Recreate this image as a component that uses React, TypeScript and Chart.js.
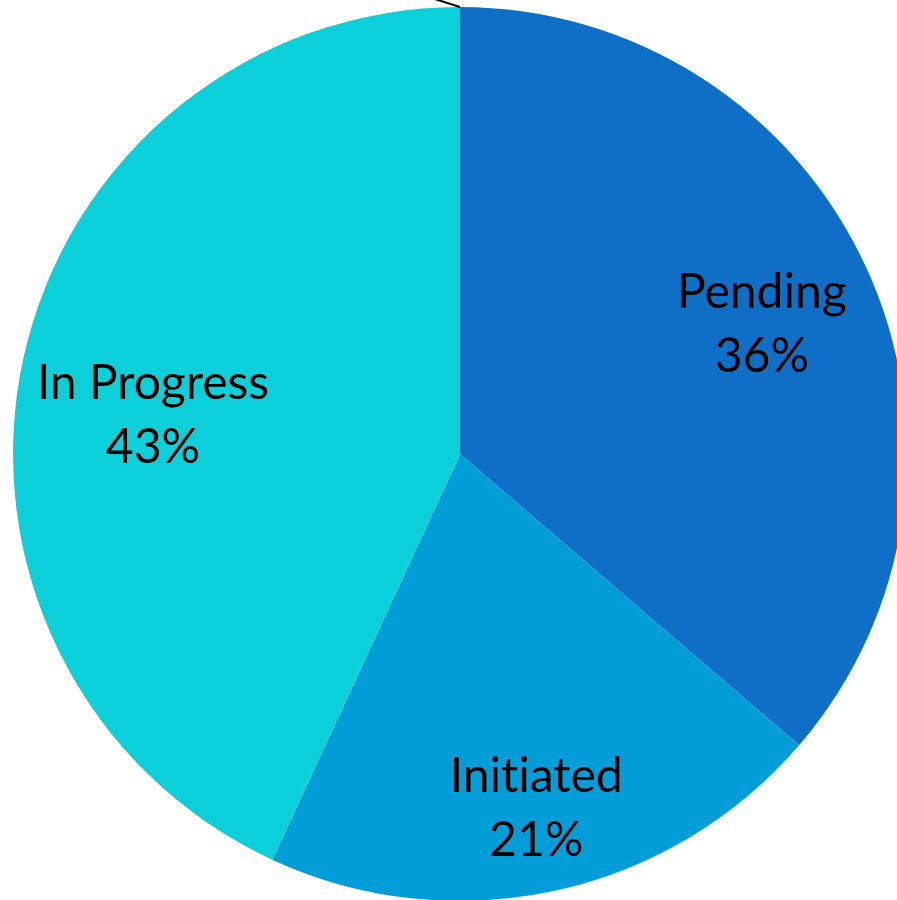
import React, { useEffect, useRef } from "react";
import { Chart, registerables } from "chart.js";

Chart.register(...registerables);

const categories = ["Pending", "Initiated", "In Progress", "Completed"];
const values = [36.3, 20.6, 43.1, 0];
const percentLabels = ["36%", "21%", "43%", "0%"];
const colors = ["#0F6FC6", "#009DD9", "#0BD0D9", "#10CF9B"];

// label placement: first-line baseline point as angle (deg, clockwise from top) and distance (fraction of radius)
const labelPlacement = [
  { angle: 64.2, dist: 0.75 },
  { angle: 167.3, dist: 0.775 },
  { angle: 280.2, dist: 0.698 },
];

const labelPlugin = {
  id: "officeLabels",
  afterDatasetsDraw(chart: any) {
    const meta = chart.getDatasetMeta(0);
    const ctx = chart.ctx;
    const first = meta.data[0];
    if (!first) return;
    const cx = first.x;
    const cy = first.y;
    const r = first.outerRadius;
    ctx.save();
    ctx.fillStyle = "#000";
    ctx.font = "48px Lato";
    try {
      (ctx as any).textRendering = "optimizeSpeed";
    } catch (e) {}
    ctx.textAlign = "center";
    ctx.textBaseline = "alphabetic";
    const lineH = 64;
    labelPlacement.forEach((p, i) => {
      const a = (p.angle * Math.PI) / 180;
      const x = cx + Math.sin(a) * r * p.dist;
      const y = cy - Math.cos(a) * r * p.dist;
      ctx.fillText(categories[i], x, y);
      ctx.fillText(percentLabels[i], x, y + lineH);
    });
    // leader line for zero-value slice at the top
    const zi = values.findIndex((v) => v === 0);
    if (zi >= 0) {
      const arc = meta.data[zi];
      const a0 = arc.startAngle;
      const sx = cx + Math.cos(a0) * r;
      const sy = cy + Math.sin(a0) * r;
      ctx.strokeStyle = "#000";
      ctx.lineWidth = 2;
      ctx.beginPath();
      ctx.moveTo(sx, sy);
      ctx.lineTo(sx - 66, sy - 21);
      ctx.stroke();
    }
    ctx.restore();
  },
};

export default function App() {
  const ref = useRef<HTMLCanvasElement | null>(null);
  useEffect(() => {
    if (!ref.current) return;
    const chart = new Chart(ref.current, {
      type: "pie",
      data: {
        labels: categories,
        datasets: [
          {
            data: values,
            backgroundColor: colors,
            borderWidth: 0,
          },
        ],
      },
      options: {
        responsive: false,
        animation: false,
        layout: { padding: 7 },
        plugins: {
          legend: { display: false },
          tooltip: { enabled: false },
        },
      },
      plugins: [labelPlugin],
    });
    return () => chart.destroy();
  }, []);
  return (
    <div
      style={{
        position: "fixed",
        left: 0,
        top: 0,
        width: 897,
        height: 900,
        overflow: "hidden",
        background: "#fff",
      }}
    >
      <canvas ref={ref} width={920} height={908} style={{ display: "block" }} />
    </div>
  );
}
